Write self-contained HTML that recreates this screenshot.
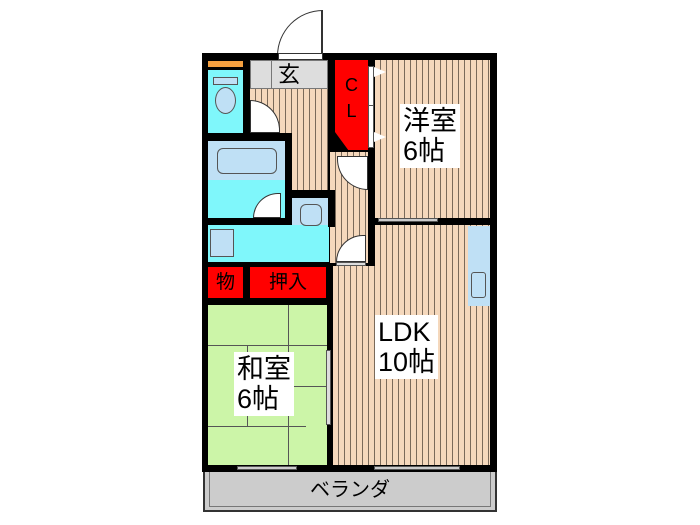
<!DOCTYPE html><html><head><meta charset="utf-8"><style>
body{margin:0;width:700px;height:525px;background:#fff;position:relative;overflow:hidden;font-family:"Liberation Sans","Noto Sans CJK JP",sans-serif}
div{position:absolute;box-sizing:border-box}
.st{background:repeating-linear-gradient(90deg,#f5d8bc 0,#f5d8bc 5px,#7a6a5a 5px,#7a6a5a 6px)}
.cy{background:#7ff7fb}
.lb{background:#bfe0f5;border:1px solid #555}
.red{background:#f00;color:#000;text-align:center}
.lbl{background:#fff;font-size:27px;line-height:30px;padding:2px 3px}
.arc{background:#fff;border:1px solid #333}
.bk{background:#000}
.tri{width:0;height:0;border-top:5px solid transparent;border-bottom:5px solid transparent;border-left:12px solid #fff}
</style></head><body>
<!-- entrance door -->
<div style="left:277px;top:10px;width:46px;height:46px;border:1px solid #333;border-radius:46px 0 0 0;border-bottom:none;border-right:2px solid #333;background:#fff"></div>
<!-- outer walls -->
<div class="bk" style="left:202px;top:53px;width:295px;height:419px"></div>
<div style="left:278px;top:53px;width:45px;height:7px;background:#fff;border:1px solid #333"></div>
<!-- 洋室 -->
<div class="st" style="left:375px;top:60px;width:115px;height:158px"></div>
<!-- LDK -->
<div class="st" style="left:375px;top:225px;width:115px;height:42px"></div>
<div class="st" style="left:333px;top:266px;width:157px;height:199px"></div>
<!-- hall -->
<div class="st" style="left:250px;top:89px;width:78px;height:44px"></div>
<div class="st" style="left:292px;top:89px;width:36px;height:104px"></div>
<div class="st" style="left:330px;top:152px;width:38px;height:111px"></div>
<div style="left:336px;top:262px;width:30px;height:4px;background:#ddd;border:1px solid #555"></div>
<!-- genkan -->
<div style="left:250px;top:60px;width:78px;height:29px;background:#ddd;border:1px solid #777;font-size:22px;text-align:center;line-height:28px">玄</div>
<div style="left:271px;top:60px;width:1px;height:29px;background:#777"></div>
<!-- toilet -->
<div style="left:208px;top:61px;width:35px;height:6px;background:#f5a040"></div>
<div class="cy" style="left:208px;top:70px;width:35px;height:63px"></div>
<div class="lb" style="left:213px;top:77px;width:25px;height:8px"></div>
<div class="lb" style="left:215px;top:87px;width:21px;height:27px;border-radius:50%"></div>
<div class="arc" style="left:250px;top:100px;width:30px;height:33px;border-radius:0 33px 0 0"></div>
<!-- bath -->
<div class="lb" style="left:208px;top:141px;width:77px;height:39px;border:none"></div>
<div class="lb" style="left:217px;top:148px;width:60px;height:26px;border-radius:6px"></div>
<div class="cy" style="left:208px;top:180px;width:77px;height:38px"></div>
<div class="arc" style="left:253px;top:193px;width:28px;height:25px;border-radius:28px 0 0 0"></div>
<!-- wash -->
<div class="cy" style="left:208px;top:225px;width:121px;height:37px"></div>
<div class="bk" style="left:285px;top:190px;width:50px;height:8px"></div>
<div class="bk" style="left:328px;top:190px;width:7px;height:37px"></div>
<div class="lb" style="left:292px;top:198px;width:36px;height:27px;border:none"></div>
<div class="lb" style="left:300px;top:204px;width:22px;height:22px;border-radius:6px"></div>
<div class="lb" style="left:210px;top:229px;width:24px;height:28px"></div>
<!-- CL -->
<div class="red" style="left:335px;top:60px;width:33px;height:90px;clip-path:polygon(0 0,100% 0,100% 100%,40% 100%,0 80%);font-size:18px;line-height:26px;padding-top:12px">C<br>L</div>
<div style="left:368px;top:66px;width:6px;height:82px;background:#fff;border:1px solid #555"></div>
<div style="left:368px;top:105px;width:6px;height:1px;background:#555"></div>
<div class="tri" style="left:374px;top:67px"></div>
<div class="tri" style="left:374px;top:132px"></div>
<div class="arc" style="left:337px;top:156px;width:31px;height:34px;border-radius:0 0 0 34px"></div>
<div class="arc" style="left:336px;top:235px;width:30px;height:27px;border-radius:27px 0 0 0"></div>
<div class="lbl" style="left:400px;top:104px">洋室<br>6帖</div>
<div style="left:378px;top:218px;width:60px;height:4px;background:#ccc;border:1px solid #555"></div>
<div class="lb" style="left:468px;top:226px;width:22px;height:80px;border:none"></div>
<div class="lb" style="left:471px;top:272px;width:15px;height:26px;border-radius:3px"></div>
<div class="lbl" style="left:375px;top:315px">LDK<br>10帖</div>
<!-- 物 押入 -->
<div class="red" style="left:208px;top:267px;width:35px;height:31px;font-size:19px;line-height:31px">物</div>
<div class="red" style="left:250px;top:267px;width:76px;height:31px;font-size:19px;line-height:31px">押入</div>
<!-- 和室 -->
<div style="left:208px;top:305px;width:119px;height:160px;background:#ccf5a8"></div>
<div style="left:208px;top:345px;width:119px;height:1px;background:#555"></div>
<div style="left:208px;top:426px;width:98px;height:1px;background:#555"></div>
<div style="left:288px;top:305px;width:1px;height:160px;background:#555"></div>
<div style="left:247px;top:345px;width:1px;height:81px;background:#555"></div>
<div style="left:288px;top:386px;width:39px;height:1px;background:#555"></div>
<div class="lbl" style="left:234px;top:352px">和室<br>6帖</div>
<div style="left:326px;top:350px;width:5px;height:75px;background:#ddd;border:1px solid #555"></div>
<!-- bottom windows -->
<div style="left:237px;top:466px;width:60px;height:4px;background:#ccc;border:1px solid #555"></div>
<div style="left:374px;top:466px;width:86px;height:4px;background:#ccc;border:1px solid #555"></div>
<!-- veranda -->
<div style="left:203px;top:472px;width:294px;height:40px;background:#ccc;border:2px solid #333;border-top:none"></div>
<div style="left:209px;top:472px;width:282px;height:35px;background:#ccc;border:1px solid #777;border-top:none;font-size:20px;text-align:center;line-height:36px">ベランダ</div>
</body></html>
